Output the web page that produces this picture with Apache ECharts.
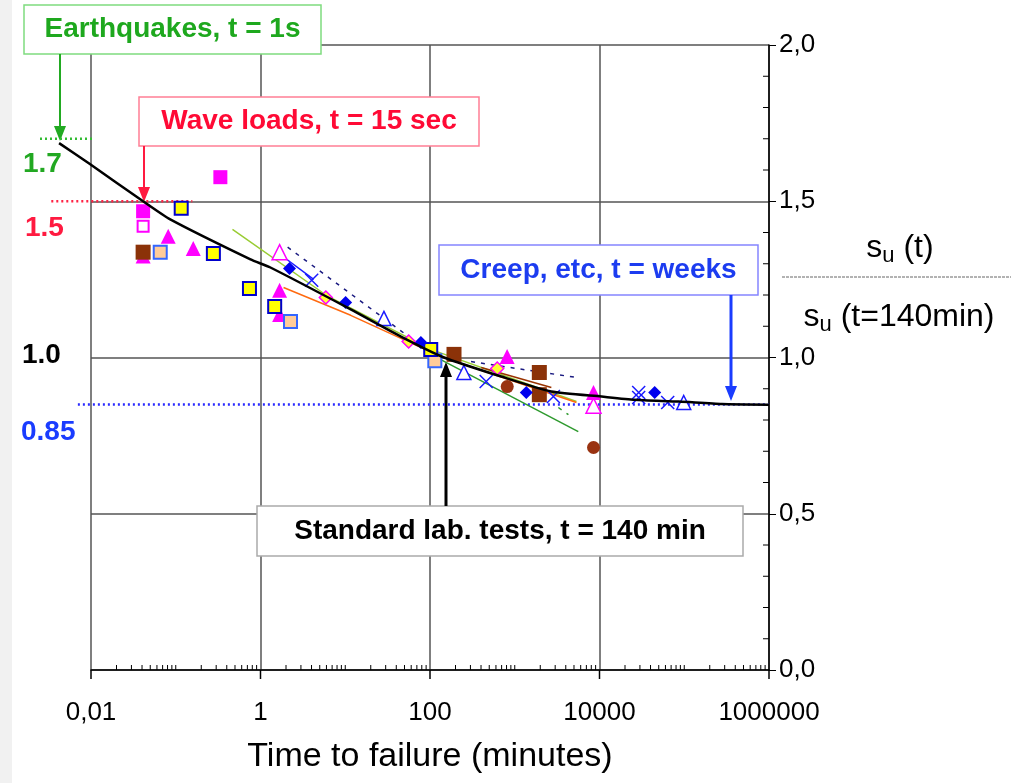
<!DOCTYPE html>
<html style="height: 100%">
<head>
    <meta charset="UTF-8">
    <title>Time to failure</title>
    <script src="https://cdn.jsdelivr.net/npm/echarts/dist/echarts.min.js"></script>
</head>
<body style="height: 100%; margin: 0; background: #fff">
    <div id="main" style="width: 1011px; height: 783px"></div>
    <script type="text/javascript">
        // tick labels
        var xTickValues = [0.01, 1, 100, 10000, 1000000];
        var xTickLabels = ['0,01', '1', '100', '10000', '1000000'];
        var yTickLabels = ['0,0', '0,5', '1,0', '1,5', '2,0'];

        // main trend curve (time in minutes, su(t)/su(140min))
        var curveTime = [0.0042, 0.0097, 0.0412, 0.0861, 0.762, 1.31, 11.6, 45.4, 146.6, 692, 2704, 10570, 25950, 86000, 278000, 1000000];
        var curveRatio = [1.686, 1.619, 1.500, 1.442, 1.314, 1.288, 1.154, 1.067, 1.000, 0.939, 0.891, 0.875, 0.865, 0.859, 0.851, 0.849];

        // test points
        var magentaSquares = [[0.336, 1.577], [0.0412, 1.468]];
        var magentaOpenSquares = [[0.0412, 1.42]];
        var magentaTriangles = [[0.0412, 1.325], [0.0815, 1.388], [0.161, 1.349], [1.68, 1.215], [1.68, 1.138], [813, 1.003], [8500, 0.888]];
        var magentaOpenTriangles = [[1.68, 1.337], [8500, 0.846]];
        var brownSquares = [[0.0412, 1.337], [192, 1.01], [1950, 0.952], [1950, 0.881]];
        var peachSquares = [[0.0656, 1.337], [2.26, 1.115], [114, 0.99]];
        var yellowSquares = [[0.116, 1.478], [0.278, 1.333], [0.741, 1.221], [1.47, 1.163], [102, 1.026]];
        var blueDiamonds = [[2.2, 1.285], [10.1, 1.176], [78, 1.048], [1368, 0.888], [44800, 0.888]];
        var blueCrosses = [[4.02, 1.247], [460, 0.923], [2860, 0.875], [29000, 0.888], [29000, 0.872], [63800, 0.856]];
        var blueOpenTriangles = [[28.6, 1.125], [251, 0.952], [98600, 0.856]];
        var yellowDiamonds = [[5.9, 1.192], [56, 1.051], [621, 0.965]];
        var brownCircles = [[815, 0.907], [8500, 0.712]];

        // fitted lines of the single test series
        var limeLine = [[0.467, 1.41], [6.21, 1.196], [102, 1.026], [5345, 0.859]];
        var greenLine = [[102, 1.01], [5620, 0.763]];
        var orangeLine = [[1.87, 1.224], [11.6, 1.135], [134, 1.003], [5345, 0.856]];
        var blueLine = [[1.82, 1.324], [4.24, 1.25]];
        var navyDash1 = [[2.09, 1.353], [78, 1.038]];
        var navyDash2 = [[305, 0.987], [5345, 0.936]];
        var greenDash = [[3270, 0.84], [4300, 0.817]];
        var brownLine = [[402, 0.968], [2704, 0.904]];

        // reference levels
        var eqLevel = [[0.0025, 1.7], [0.0106, 1.7]];
        var waveLevel = [[0.0034, 1.5], [0.157, 1.5]];
        var creepLevel = [[0.007, 0.85], [1000000, 0.85]];

        var myChart = echarts.init(document.getElementById('main'));
        var font = 'Liberation Sans, Arial, sans-serif';
        var decade = (1011 - 242 - 91) / 8;

        function scatter(data, symbol, size, fill, border, bw) {
            return {
                type: 'scatter', data: data, symbol: symbol, symbolSize: size,
                itemStyle: { color: fill, borderColor: border, borderWidth: bw, opacity: 1 },
                z: 4, silent: true
            };
        }
        // lines go on the wider hidden grid so they may run left of 0,01
        function line(data, color, width, type, z) {
            return {
                type: 'line', data: data, showSymbol: false, silent: true,
                xAxisIndex: 1, yAxisIndex: 1,
                lineStyle: { color: color, width: width, type: type }, z: z || 3
            };
        }

        var curve = curveTime.map(function (t, i) { return [t, curveRatio[i]]; });
        var cross = 'path://M0,0L10,10M10,0L0,10';

        var option = {
            animation: false,
            grid: [
                { left: 91, right: 242, top: 45, bottom: 113 },
                { left: 91 - decade, right: 242, top: 45, bottom: 113 }
            ],
            xAxis: [{
                type: 'log', logBase: 10, min: 0.01, max: 1000000, splitNumber: 8,
                axisLine: { lineStyle: { color: '#000', width: 1.5 } },
                axisTick: { show: false },
                axisLabel: {
                    margin: 30, color: '#000', fontSize: 26, fontFamily: font,
                    formatter: function (v) {
                        var e = Math.log10(v);
                        for (var i = 0; i < xTickValues.length; i++) {
                            if (Math.abs(Math.log10(xTickValues[i]) - e) < 0.01) return xTickLabels[i];
                        }
                        return '';
                    }
                },
                splitLine: { show: true, lineStyle: { color: ['#555', 'rgba(0,0,0,0)'], width: 1.5 } },
                name: 'Time to failure (minutes)', nameLocation: 'middle', nameGap: 70,
                nameTextStyle: { color: '#000', fontSize: 34, fontFamily: font }
            }, {
                gridIndex: 1, type: 'log', logBase: 10, min: 0.001, max: 1000000, show: false
            }],
            yAxis: [{
                type: 'value', position: 'right', min: 0, max: 2, interval: 0.5,
                axisLine: { show: true, lineStyle: { color: '#000', width: 1.5 } },
                axisTick: { show: true, length: 7, lineStyle: { color: '#000' } },
                axisLabel: {
                    margin: 10, color: '#000', fontSize: 26, fontFamily: font,
                    formatter: function (v) { return yTickLabels[Math.round(v / 0.5)]; }
                },
                splitLine: { show: true, lineStyle: { color: '#555', width: 1.5 } }
            }, {
                gridIndex: 1, type: 'value', min: 0, max: 2, show: false
            }],
            series: [
                line(creepLevel, '#2a2aff', 2.5, [2, 3], 2),
                line(eqLevel, '#33bb33', 2.5, [2, 3], 2),
                line(waveLevel, '#ff2244', 2.5, [2, 3], 2),
                line(limeLine, '#99cc33', 1.5, 'solid'),
                line(greenLine, '#2e9a2e', 1.5, 'solid'),
                line(orangeLine, '#ff6a10', 1.5, 'solid'),
                line(blueLine, '#1a1aff', 1.5, 'solid'),
                line(navyDash1, '#1a1a80', 1.5, [4, 6]),
                line(navyDash2, '#1a1a80', 1.5, [4, 6]),
                line(greenDash, '#2e9a2e', 1.5, [4, 6]),
                line(brownLine, '#993300', 1.5, 'solid'),
                scatter(magentaTriangles, 'triangle', 15, '#ff00ff', '#ff00ff', 0),
                scatter(magentaSquares, 'rect', 14, '#ff00ff', '#ff00ff', 0),
                scatter(magentaOpenSquares, 'rect', 11, '#fff', '#ff00ff', 2),
                scatter(brownSquares, 'rect', 15, '#8b3208', '#8b3208', 0),
                scatter(peachSquares, 'rect', 13, '#ffcc99', '#3366ff', 2),
                scatter(yellowSquares, 'rect', 13, '#ffff00', '#0000cc', 2),
                scatter(magentaOpenTriangles, 'triangle', 15, '#fff', '#ff00ff', 1.5),
                scatter(blueOpenTriangles, 'triangle', 14, '#fff', '#1a1aff', 1.5),
                scatter(blueDiamonds, 'diamond', 13, '#0000ee', '#0000ee', 0),
                scatter(blueCrosses, cross, 13, 'none', '#1a1aff', 1.5),
                scatter(yellowDiamonds, 'diamond', 13, '#ffff33', '#ff00ff', 1.5),
                scatter(brownCircles, 'circle', 13, '#993311', '#993311', 0),
                {
                    type: 'line', data: curve, smooth: 0.2, showSymbol: false, silent: true,
                    xAxisIndex: 1, yAxisIndex: 1,
                    lineStyle: { color: '#000', width: 2.5 }, z: 5
                }
            ]
        };

        myChart.setOption(option);

        // annotations
        function box(x, y, w, h, border, text, color) {
            return {
                type: 'group', z: 20, children: [
                    { type: 'rect', shape: { x: x, y: y, width: w, height: h }, style: { fill: '#fff', stroke: border, lineWidth: 1.5 } },
                    {
                        type: 'text', x: x + w / 2, y: y + h / 2,
                        style: { text: text, fill: color, font: 'bold 28px ' + font, align: 'center', verticalAlign: 'middle' }
                    }
                ]
            };
        }
        function arrow(x, y1, y2, color, w) {
            var dir = y2 > y1 ? 1 : -1;
            return {
                type: 'group', z: 21, children: [
                    { type: 'line', shape: { x1: x, y1: y1, x2: x, y2: y2 - dir * 12 }, style: { stroke: color, lineWidth: w } },
                    { type: 'polygon', shape: { points: [[x - 6, y2 - dir * 15], [x + 6, y2 - dir * 15], [x, y2]] }, style: { fill: color } }
                ]
            };
        }
        function label(x, y, text, color) {
            return {
                type: 'text', x: x, y: y, z: 20,
                style: { text: text, fill: color, font: 'bold 28px ' + font, align: 'left', verticalAlign: 'middle' }
            };
        }
        var ratioRich = {
            s: { fontSize: 32, fontFamily: font, fill: '#000', lineHeight: 36 },
            u: { fontSize: 22, fontFamily: font, fill: '#000', lineHeight: 36, padding: [16, 0, 0, 0] }
        };

        var graphics = [
            { type: 'rect', shape: { x: 0, y: 0, width: 12, height: 783 }, style: { fill: '#f1f1f1' }, z: 0 },
            box(24, 5, 297, 49, '#7fdc7f', 'Earthquakes, t = 1s', '#1ea81e'),
            box(139, 97, 340, 49, '#ff7f95', 'Wave loads, t = 15 sec', '#ff0a35'),
            box(439, 245, 319, 50, '#8585ff', 'Creep, etc, t = weeks', '#1c3cf0'),
            box(257, 506, 486, 50, '#aaaaaa', 'Standard lab. tests, t = 140 min', '#000'),
            arrow(60, 54, 141, '#22aa22', 2),
            arrow(144, 146, 202, '#ff1a40', 2),
            arrow(731, 295, 401, '#1a3cff', 3),
            arrow(446, 506, 362, '#000', 3),
            label(23, 164, '1.7', '#22a822'),
            label(25, 228, '1.5', '#ff1a40'),
            label(22, 355, '1.0', '#000'),
            label(21, 432, '0.85', '#1a3cff'),
            {
                type: 'text', x: 900, y: 248, z: 20,
                style: { text: '{s|s}{u|u}{s| (t)}', align: 'center', verticalAlign: 'middle', rich: ratioRich }
            },
            { type: 'line', z: 20, shape: { x1: 782, y1: 277, x2: 1011, y2: 277 }, style: { stroke: '#666', lineWidth: 1, lineDash: [3, 1] } },
            {
                type: 'text', x: 899, y: 317, z: 20,
                style: { text: '{s|s}{u|u}{s| (t=140min)}', align: 'center', verticalAlign: 'middle', rich: ratioRich }
            }
        ];

        // x axis ticks: long ones at labelled decades, short ones inside elsewhere
        for (var n = -2; n <= 6; n++) {
            for (var k = 1; k <= 9; k++) {
                if (n === 6 && k > 1) break;
                var p = myChart.convertToPixel({ gridIndex: 0 }, [k * Math.pow(10, n), 0]);
                var major = k === 1 && n % 2 === 0;
                graphics.push({
                    type: 'line', z: 6,
                    shape: { x1: p[0], y1: major ? p[1] + 9 : p[1], x2: p[0], y2: major ? p[1] : p[1] - 5 },
                    style: { stroke: '#000', lineWidth: major ? 1.5 : 1 }
                });
            }
        }
        // y axis minor ticks
        for (var j = 1; j < 20; j++) {
            if (j % 5 === 0) continue;
            var q = myChart.convertToPixel({ gridIndex: 0 }, [1000000, j / 10]);
            graphics.push({ type: 'line', z: 6, shape: { x1: q[0], y1: q[1], x2: q[0] - 6, y2: q[1] }, style: { stroke: '#000', lineWidth: 1 } });
        }

        myChart.setOption({ graphic: graphics });
    </script>
</body>
</html>
